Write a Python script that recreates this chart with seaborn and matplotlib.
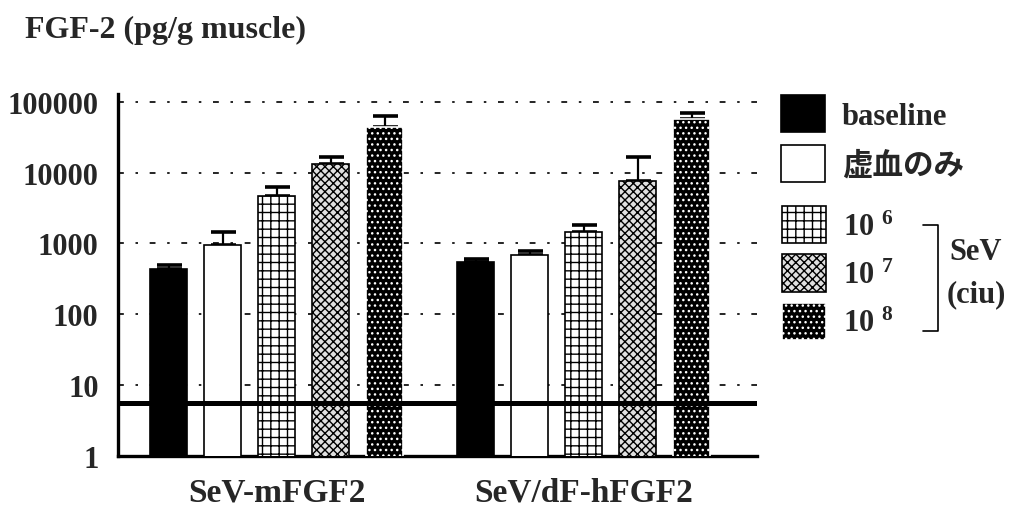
import numpy as np
import pandas as pd
import matplotlib
matplotlib.use('Agg')
import matplotlib.pyplot as plt
import seaborn as sns

# 데이터
groups = ['SeV-mFGF2', 'SeV/dF-hFGF2']
levels = ['baseline', '虚血のみ', '10$^{\\ 6}$', '10$^{\\ 7}$', '10$^{\\ 8}$']
mean_mfgf2 = [437, 955, 4700, 13300, 44500]
upper_mfgf2 = [500, 1450, 6300, 16700, 63000]
mean_hfgf2 = [550, 690, 1450, 7650, 57500]
upper_hfgf2 = [605, 790, 1820, 16700, 69800]
detection_limit = 5.6
yticks = [1, 10, 100, 1000, 10000, 100000]

df = pd.DataFrame({
    'group': np.repeat(groups, len(levels)),
    'level': levels * len(groups),
    'value': mean_mfgf2 + mean_hfgf2,
    'upper': upper_mfgf2 + upper_hfgf2,
})

sns.set_style('white')
serif = ['Liberation Serif', 'Noto Sans CJK JP', 'DejaVu Serif']
plt.rcParams['font.family'] = serif
plt.rcParams['font.weight'] = 'bold'
plt.rcParams['mathtext.default'] = 'regular'
plt.rcParams['hatch.linewidth'] = 1.0

fig = plt.figure(figsize=(10.14, 5.10), dpi=100)
ax = fig.add_axes([0.1164, 0.1039, 0.630, 0.710])

sns.barplot(data=df, x='group', y='value', hue='level', order=groups, hue_order=levels,
            width=0.88, gap=0.315, errorbar=None, legend=False, ax=ax,
            palette=['black'] * len(levels), saturation=1, zorder=3)
ax.set_yscale('log')
bar_conts = list(ax.containers)

# 패턴 설정
styles = [
    dict(facecolor='black', edgecolor='black', hatch=None),
    dict(facecolor='white', edgecolor='black', hatch=None),
    dict(facecolor='white', edgecolor='black', hatch='++'),
    dict(facecolor='#e0e0e0', edgecolor='black', hatch='xxxx'),
    dict(facecolor='black', edgecolor='white', hatch='...'),
]
for cont, st in zip(bar_conts, styles):
    for bar in cont:
        bar.set_facecolor(st['facecolor'])
        bar.set_edgecolor(st['edgecolor'])
        bar.set_hatch(st['hatch'])
        bar.set_linewidth(1.2)

# 오차막대 (위쪽만)
for i, cont in enumerate(bar_conts):
    for j, bar in enumerate(cont):
        row = df[(df['group'] == groups[j]) & (df['level'] == levels[i])].iloc[0]
        xc = bar.get_x() + bar.get_width() / 2
        ax.errorbar(xc, row['value'], yerr=[[0], [row['upper'] - row['value']]],
                    fmt='none', ecolor='black', elinewidth=1.6, capsize=9, capthick=2.6, zorder=2)

ax.axhline(detection_limit, color='black', lw=3.6, zorder=5)

ax.set_ylim(1, 129000)
ax.set_xlim(-0.518, 1.564)
ax.set_yticks(yticks)
ax.set_yticklabels([str(t) for t in yticks])
ax.yaxis.set_minor_locator(matplotlib.ticker.NullLocator())
ax.grid(axis='y', which='major', color='black', lw=1.2, ls=(0, (3.5, 7, 1.5, 7)), zorder=0)
ax.tick_params(axis='both', length=0)
ax.tick_params(axis='y', pad=14, labelsize=22)
ax.tick_params(axis='x', pad=15, labelsize=24)
for lab in ax.get_xticklabels() + ax.get_yticklabels():
    lab.set_fontweight('bold')
ax.set_xlabel('')
ax.set_ylabel('')
for side in ['top', 'right']:
    ax.spines[side].set_visible(False)
ax.spines['left'].set_linewidth(2.4)
ax.spines['bottom'].set_linewidth(2.4)
ax.spines['left'].set_color('black')
ax.spines['bottom'].set_color('black')

fig.text(25 / 1014, 1 - 30 / 510, 'FGF-2 (pg/g muscle)', fontsize=23, fontweight='bold',
         va='center', ha='left')

# 범례
handles = [cont[0] for cont in bar_conts]
leg_kw = dict(frameon=False, handlelength=1.44, handleheight=1.5,
              handletextpad=0.55, borderpad=0, borderaxespad=0, loc='upper left',
              prop={'family': serif, 'weight': 'bold', 'size': 22})
leg1 = fig.legend(handles[:2], levels[:2], bbox_to_anchor=(781 / 1014, 1 - 96 / 510),
                  labelspacing=0.4, **leg_kw)
leg2 = fig.legend(handles[2:], levels[2:], bbox_to_anchor=(782 / 1014, 1 - 207 / 510),
                  labelspacing=0.36, **leg_kw)
for h in leg1.legend_handles + leg2.legend_handles:
    h.set_linewidth(1.2)

# SeV 괄호
fig.add_artist(plt.Line2D([923 / 1014, 938 / 1014, 938 / 1014, 923 / 1014],
                          [1 - 226 / 510, 1 - 226 / 510, 1 - 332 / 510, 1 - 332 / 510],
                          color='black', lw=1.2))
fig.text(976 / 1014, 1 - 253 / 510, 'SeV', fontsize=22, fontweight='bold', ha='center', va='center')
fig.text(976 / 1014, 1 - 295 / 510, '(ciu)', fontsize=22, fontweight='bold', ha='center', va='center')

fig.savefig('out.png', dpi=100)
